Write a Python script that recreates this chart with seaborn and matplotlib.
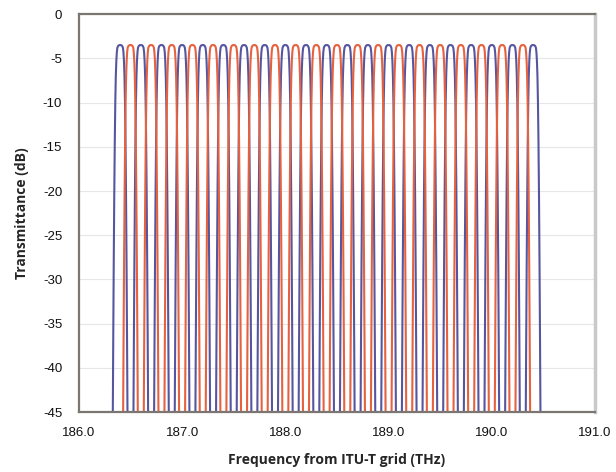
import numpy as np
import pandas as pd
import matplotlib
matplotlib.use("Agg")
import matplotlib.pyplot as plt
import seaborn as sns

# Channel centre frequencies (THz), alternating colours
blue_centers = [186.4, 186.6, 186.8, 187.0, 187.2, 187.4, 187.6, 187.8, 188.0, 188.2,
                188.4, 188.6, 188.8, 189.0, 189.2, 189.4, 189.6, 189.8, 190.0, 190.2, 190.4]
red_centers = [186.5, 186.7, 186.9, 187.1, 187.3, 187.5, 187.7, 187.9, 188.1, 188.3,
               188.5, 188.7, 188.9, 189.1, 189.3, 189.5, 189.7, 189.9, 190.1, 190.3]

# One passband profile: offset from centre (THz) and transmittance (dB)
profile_offset = [-0.072, -0.067, -0.062, -0.057, -0.052, -0.047, -0.042, -0.037, -0.032, -0.027,
                  -0.020, -0.010, 0.000, 0.010, 0.020, 0.027, 0.032, 0.037, 0.042, 0.047,
                  0.052, 0.057, 0.062, 0.067, 0.072]
profile_db = [-47.0, -37.0, -28.0, -20.5, -14.5, -10.0, -7.0, -5.3, -4.3, -3.8,
              -3.6, -3.5, -3.5, -3.5, -3.6, -3.8, -4.3, -5.3, -7.0, -10.0,
              -14.5, -20.5, -28.0, -37.0, -47.0]

x_ticks = [186.0, 187.0, 188.0, 189.0, 190.0, 191.0]
y_ticks = [0, -5, -10, -15, -20, -25, -30, -35, -40, -45]

rows = []
for grp, centers in (("blue", blue_centers), ("red", red_centers)):
    for c in centers:
        for o, d in zip(profile_offset, profile_db):
            rows.append({"freq": c + o, "dB": d, "channel": f"{grp}{c:.1f}", "group": grp})
df = pd.DataFrame(rows)

sns.set_theme(style="white")
plt.rcParams["font.family"] = ["Liberation Sans", "DejaVu Sans"]

fig = plt.figure(figsize=(6.16, 4.72), dpi=100)
ax = fig.add_axes([0.128, 0.127, 0.838, 0.843])

for y in y_ticks:
    ax.axhline(y, color="#e6e6e6", lw=0.8, zorder=0)

sns.lineplot(data=df, x="freq", y="dB", hue="group", units="channel", estimator=None,
             palette={"blue": "#5656a0", "red": "#e6623f"}, lw=1.5, legend=False,
             sort=False, ax=ax)

ax.set_xlim(186.0, 191.0)
ax.set_ylim(-45, 0)
ax.set_xticks(x_ticks)
ax.set_xticklabels([f"{v:.1f}" for v in x_ticks])
ax.set_yticks(y_ticks)
ax.set_yticklabels([str(v) for v in y_ticks])
ax.tick_params(axis="both", length=0, labelsize=9.5, colors="#111111")
ax.tick_params(axis="x", pad=11)
ax.tick_params(axis="y", pad=12)

for s in ("top", "left", "bottom"):
    ax.spines[s].set_color("#7b7670")
    ax.spines[s].set_linewidth(1.6)
ax.spines["right"].set_color("#c9c9c9")
ax.spines["right"].set_linewidth(2.5)

ax.set_xlabel("Frequency from ITU-T grid (THz)", fontsize=10, fontweight="bold",
              family=["Open Sans", "DejaVu Sans"], labelpad=10)
ax.set_ylabel("Transmittance (dB)", fontsize=10, fontweight="bold",
              family=["Open Sans", "DejaVu Sans"], labelpad=10)

fig.savefig("out.png", dpi=100)
